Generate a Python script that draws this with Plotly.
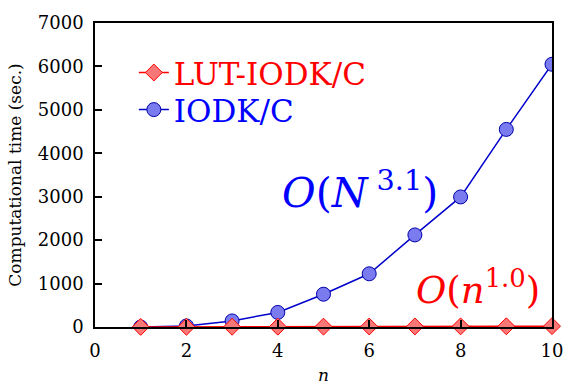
import plotly.graph_objects as go

n_values = [1, 2, 3, 4, 5, 6, 7, 8, 9, 10]
lut_iodk_c = [2, 4, 5, 7, 9, 11, 13, 15, 17, 20]
iodk_c = [0, 25, 140, 335, 755, 1225, 2120, 2995, 4550, 6050]

x_ticks = [0, 2, 4, 6, 8, 10]
y_ticks = [0, 1000, 2000, 3000, 4000, 5000, 6000, 7000]

FONT = "DejaVu Serif"

fig = go.Figure()
fig.add_trace(go.Scatter(
    x=n_values, y=iodk_c, name="IODK/C", mode="lines+markers",
    line=dict(color="#0000cc", width=1.5),
    marker=dict(symbol="circle", size=14, color="#7b7bf0",
                line=dict(color="#0000aa", width=1)),
    legend="legend2", showlegend=True,
))
fig.add_trace(go.Scatter(
    x=n_values, y=lut_iodk_c, name="LUT-IODK/C", mode="lines+markers",
    line=dict(color="#ff0000", width=1.5),
    marker=dict(symbol="diamond", size=13, color="#f87878",
                line=dict(color="#ff0000", width=1)),
    legend="legend", showlegend=True,
    cliponaxis=False,
))

fig.update_layout(
    width=564, height=385,
    margin=dict(l=95, r=12, t=23, b=58, autoexpand=False),
    showlegend=True,
    paper_bgcolor="white", plot_bgcolor="white",
    font=dict(family=FONT, color="black", size=18),
    legend=dict(x=0.085, y=0.836, xanchor="left", yanchor="middle",
                font=dict(family=FONT, size=31, color="#ff0000"),
                bgcolor="rgba(0,0,0,0)", borderwidth=0, tracegroupgap=0),
    legend2=dict(x=0.085, y=0.714, xanchor="left", yanchor="middle",
                 font=dict(family=FONT, size=31, color="#0000ff"),
                 bgcolor="rgba(0,0,0,0)", borderwidth=0, tracegroupgap=0),
    xaxis=dict(range=[0, 10], tickvals=x_ticks, ticks="inside", ticklen=7,
               tickwidth=1.5, tickcolor="black", showline=True, linecolor="black",
               linewidth=1.5, mirror=True, showgrid=False, zeroline=False,
               automargin=False,
               tickfont=dict(family=FONT, size=18), ticklabelstandoff=7,
               title=dict(text="<i>n</i>", font=dict(family=FONT, size=17), standoff=22)),
    yaxis=dict(range=[0, 7000], tickvals=y_ticks, ticks="inside", ticklen=7,
               tickwidth=1.5, tickcolor="black", showline=True, linecolor="black",
               linewidth=1.5, mirror=True, showgrid=False, zeroline=False,
               automargin=False,
               tickfont=dict(family=FONT, size=18), ticklabelstandoff=6,
               title=dict(text="Computational time (sec.)",
                          font=dict(family=FONT, size=17), standoff=12)),
    annotations=[
        dict(text="<i>O</i>(<i>N</i><sup> 3.1</sup>)", xref="paper", yref="paper",
             x=0.58, y=0.45, xanchor="center", yanchor="middle", showarrow=False,
             font=dict(family=FONT, size=41, color="#0000ff")),
        dict(text="<i>O</i>(<i>n</i><sup>1.0</sup>)", xref="paper", yref="paper",
             x=0.838, y=0.13, xanchor="center", yanchor="middle", showarrow=False,
             font=dict(family=FONT, size=37, color="#ff0000")),
    ],
)

fig.write_html("out.html", config={"displayModeBar": False},
               post_script="document.body.style.margin='0';document.documentElement.style.overflow='hidden';")
